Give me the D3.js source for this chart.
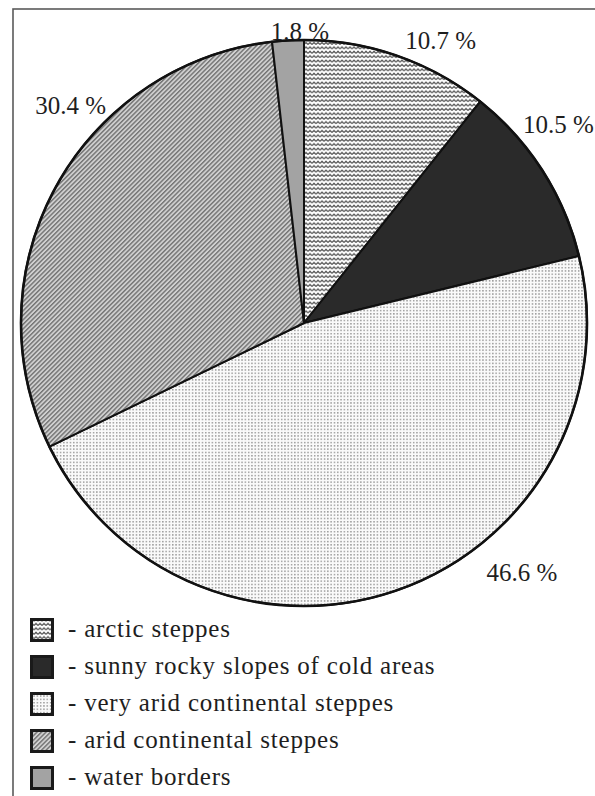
<!DOCTYPE html>
<html>
<head>
<meta charset="utf-8">
<script src="https://cdn.jsdelivr.net/npm/d3@7"></script>
<style>
  body { margin: 0; background: #fff; }
  svg { display: block; }
</style>
</head>
<body>
<div id="chart"></div>
<script>
// slice data, clockwise from 12 o'clock
const categories = [
  "arctic steppes",
  "sunny rocky slopes of cold areas",
  "very arid continental steppes",
  "arid continental steppes",
  "water borders",
];
const shares = [10.7, 10.5, 46.6, 30.4, 1.8];
const valueLabels = ["10.7 %", "10.5 %", "46.6 %", "30.4 %", "1.8 %"];
const fillIds = ["zig", "solid", "dots", "hatch", "water"];

// label placement: polar offset (deg from top, radius) around pie centre
const labelPolar = [
  [25.8, 314],
  [52.0, 323],
  [138.8, 331],
  [313.0, 319],
  [-0.8, 292],
];

const serif = '"Liberation Serif", "Times New Roman", Tinos, serif';

const createPieChart = () => {
  const width = 595;
  const height = 796;
  const cx = 304;
  const cy = 323;
  const radius = 283;

  const svg = d3
    .select("#chart")
    .append("svg")
    .attr("width", width)
    .attr("height", height);

  const defs = svg.append("defs");

  // zigzag lines (arctic steppes)
  const zig = defs
    .append("pattern")
    .attr("id", "zig")
    .attr("patternUnits", "userSpaceOnUse")
    .attr("width", 4)
    .attr("height", 4.4);
  zig.append("rect").attr("width", 4).attr("height", 4.4).attr("fill", "#fff");
  zig
    .append("path")
    .attr("d", "M0,3 L2,1.2 L4,3")
    .attr("fill", "none")
    .attr("stroke", "#555")
    .attr("stroke-width", 1.3);

  // dot grid (very arid)
  const dots = defs
    .append("pattern")
    .attr("id", "dots")
    .attr("patternUnits", "userSpaceOnUse")
    .attr("width", 3.3)
    .attr("height", 3.3);
  dots.append("rect").attr("width", 3.3).attr("height", 3.3).attr("fill", "#fafafa");
  dots
    .append("rect")
    .attr("width", 1.5)
    .attr("height", 1.5)
    .attr("fill", "#9c9c9c");

  // diagonal hatch (arid)
  const hatch = defs
    .append("pattern")
    .attr("id", "hatch")
    .attr("patternUnits", "userSpaceOnUse")
    .attr("width", 3.2)
    .attr("height", 3.2)
    .attr("patternTransform", "rotate(45)");
  hatch.append("rect").attr("width", 3.2).attr("height", 3.2).attr("fill", "#d0d0d0");
  hatch
    .append("rect")
    .attr("width", 1.4)
    .attr("height", 3.2)
    .attr("fill", "#727272");

  const fills = {
    zig: "url(#zig)",
    solid: "#2a2a2a",
    dots: "url(#dots)",
    hatch: "url(#hatch)",
    water: "#a3a3a3",
  };

  // frame
  svg
    .append("rect")
    .attr("x", 13)
    .attr("y", 9)
    .attr("width", 600)
    .attr("height", 800)
    .attr("fill", "none")
    .attr("stroke", "#5a5a5a")
    .attr("stroke-width", 1.6);

  const data = categories.map((c, i) => ({
    category: c,
    share: shares[i],
    label: valueLabels[i],
    fill: fills[fillIds[i]],
    polar: labelPolar[i],
  }));

  const pie = d3
    .pie()
    .sort(null)
    .value((d) => d.share);

  const arc = d3.arc().innerRadius(0).outerRadius(radius);

  const g = svg.append("g").attr("transform", `translate(${cx},${cy})`);

  g.selectAll("path.slice")
    .data(pie(data))
    .enter()
    .append("path")
    .attr("class", "slice")
    .attr("d", arc)
    .attr("fill", (d) => d.data.fill)
    .attr("stroke", "#111")
    .attr("stroke-width", 2)
    .attr("stroke-linejoin", "round");

  // outer rim a bit heavier
  g.append("circle")
    .attr("r", radius)
    .attr("fill", "none")
    .attr("stroke", "#111")
    .attr("stroke-width", 2.6);

  // percent labels
  g.selectAll("text.value")
    .data(data)
    .enter()
    .append("text")
    .attr("class", "value")
    .attr("x", (d) => Math.sin((d.polar[0] * Math.PI) / 180) * d.polar[1])
    .attr("y", (d) => -Math.cos((d.polar[0] * Math.PI) / 180) * d.polar[1])
    .attr("dy", "0.35em")
    .attr("text-anchor", "middle")
    .style("font-family", serif)
    .style("font-size", "25px")
    .style("fill", "#1e1e1e")
    .text((d) => d.label);

  // legend
  const legend = svg
    .selectAll(".legend")
    .data(data)
    .enter()
    .append("g")
    .attr("class", "legend")
    .attr("transform", (d, i) => `translate(30, ${618 + i * 37})`);

  legend
    .append("rect")
    .attr("x", 1.5)
    .attr("y", 1.5)
    .attr("width", 21)
    .attr("height", 21)
    .attr("fill", (d) => d.fill)
    .attr("stroke", "#1a1a1a")
    .attr("stroke-width", 3);

  legend
    .append("text")
    .attr("x", 38)
    .attr("y", 19)
    .style("font-family", serif)
    .style("font-size", "25px")
    .style("letter-spacing", "0.8px")
    .style("fill", "#1e1e1e")
    .text((d) => `- ${d.category}`);
};

createPieChart();
</script>
</body>
</html>
